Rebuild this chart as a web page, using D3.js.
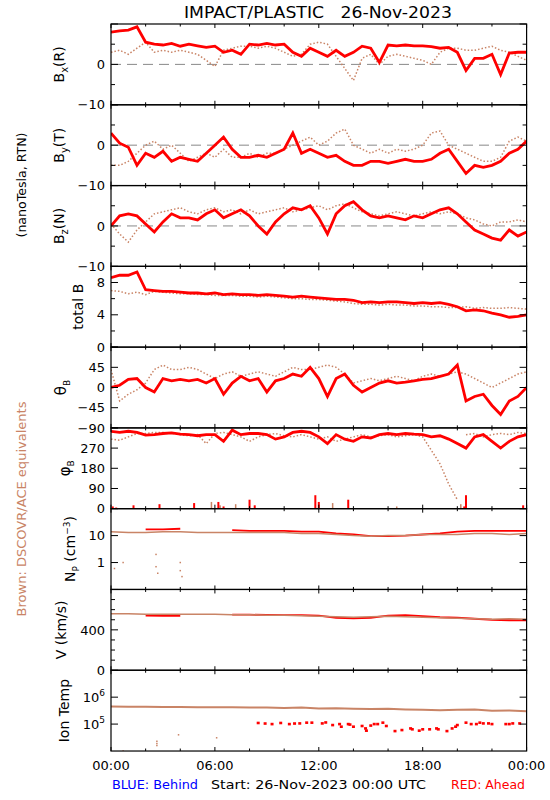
<!DOCTYPE html>
<html><head><meta charset="utf-8">
<script src="https://cdn.jsdelivr.net/npm/d3@7"></script>
<style>
body{margin:0;background:#fff}
svg{display:block}
text{font-family:"DejaVu Sans",sans-serif;fill:#000}
</style>
</head><body>
<svg id="c" width="550" height="800"></svg>
<script>
// ---------------- DATA ----------------
const hoursB=[0,0.5,1,1.5,2,2.5,3,3.5,4,4.5,5,5.5,6,6.5,7,7.5,8,8.5,9,9.5,10,10.5,11,11.5,12,12.5,13,13.5,14,14.5,15,15.5,16,16.5,17,17.5,18,18.5,19,19.5,20,20.5,21,21.5,22,22.5,23,23.5,24];
const bxRed=[8.0,8.3,8.5,9.3,5.5,5.0,4.8,5.2,4.5,5.0,4.6,4.2,4.5,3.0,3.5,2.5,5.0,4.8,5.2,4.8,5.0,3.0,2.0,4.0,3.0,2.0,3.5,2.0,3.0,4.5,4.0,0.5,4.8,4.6,4.8,4.6,4.6,4.4,4.0,4.2,3.0,-1.5,1.5,1.5,2.5,-2.5,2.8,3.0,3.0];
const bxBrown=[3,3.5,2.5,4,5.5,3,3.5,3,3.5,3,2.5,1,-0.5,3.5,4,4.5,4.5,4,4.5,4,3,2,2.5,5,5.5,5,2,-1,-4,1.5,2.5,0,2,2.5,2,1.5,1,0,3,4,4,3.5,3.5,4,4.5,3.5,3,2,1];
const byRed=[3,0.5,-0.5,-5,-2,-3,-1.5,-4,-3,-3.5,-4,-2,0,2,-1,-3,-3,-2.5,-3,-2,-1,3,-2,-1,-2,-3,-2.5,-4,-5,-5,-4,-4,-4.5,-4,-3.5,-4,-4,-3.5,-2,-1,-4,-7,-5,-5.5,-5,-4,-2,-1,1];
const byBrown=[-5,-5,-4,-2,0,1,-1,0,-2,-4,-3,-2,-3,-1,-3,-3,-2,-3,-2,-2,-1,0,1,2,0,1,3,4,0,-1,-2,-1,-2,-1,-1.5,-1,0,3,3.5,0,-1,-2,-3,-4,-4,-3,1,2,1];
const bzRed=[0,2.5,3,2.5,0.5,-1.5,1,3,2,2,1.5,3,4,2,3,4,2.5,0,-2,1,3,4.5,4,5,2,-2,3,5,6,4,2.5,2,2.5,2,1.5,2.5,2,3,4,4.5,3,1,-1,-2,-3,-3.5,-1,-2.5,-1.5];
const bzBrown=[0.5,-2,-4,-1,1,3,3.5,4,4.5,3.5,3,4,4.5,3.5,4,3,4,3,3.5,4,4.5,3.5,4,4.5,5,4,5,5.5,4.5,3.5,3,2.5,3,3.5,3,2.5,3,3.5,3,3.5,3,2,1.5,0.5,0,1,1,1.5,1];
const btRed=[8.6,8.9,8.9,9.3,7.1,7.0,6.9,6.9,6.8,6.7,6.7,6.6,6.7,6.5,6.6,6.5,6.5,6.4,6.5,6.4,6.3,6.2,6.3,6.2,6.1,6.0,5.9,5.9,5.8,5.5,5.6,5.5,5.6,5.6,5.5,5.4,5.5,5.4,5.5,5.3,5.0,4.5,4.6,4.5,4.2,4.0,3.7,3.8,4.0];
const btBrown=[7.0,6.9,6.6,6.8,6.5,6.9,6.8,6.7,6.6,6.6,6.5,6.5,6.4,6.4,6.4,6.3,6.3,6.2,6.3,6.2,6.1,6.0,6.0,5.9,5.9,5.8,5.7,5.6,5.4,5.3,5.3,5.2,5.3,5.2,5.2,5.1,5.1,5.0,5.0,4.9,4.9,5.0,4.8,4.9,4.8,4.8,4.9,4.8,4.7];
const thetaRed=[0,5,18,20,0,-10,20,15,18,15,18,10,20,-15,10,25,15,20,-10,15,20,30,25,45,20,-20,20,30,5,-10,0,10,15,10,12,15,18,20,25,30,50,-30,-20,-15,-40,-60,-30,-20,0];
const thetaBrown=[40,-30,-15,-5,10,40,50,40,40,45,40,30,20,30,35,25,30,35,30,25,35,45,40,40,45,50,45,30,10,15,20,15,20,25,20,15,25,30,25,30,35,30,20,10,0,10,20,30,35];
const phiRed=[345,340,345,340,328,330,335,338,332,330,325,330,330,300,350,330,335,335,330,310,320,340,345,340,320,290,330,310,300,320,315,330,335,330,335,332,330,320,325,310,290,270,320,330,300,270,300,320,330];
const phiBrown=[310,305,320,335,335,340,340,335,330,325,330,290,335,340,330,320,300,320,330,335,325,320,330,320,310,320,300,310,320,330,320,325,330,320,325,330,320,260,200,110,40,330,335,320,330,335,330,340,335];
// phi values wrapped near 0 deg
const phiRedLowH=[0.1,0.3,1.3,2.8,4.8,6.2,6.5,8.0,8.3,11.8,12.0,13.7,20.4,20.5,23.8];
const phiRedLowV=[10,5,15,20,25,30,10,40,15,60,30,40,10,60,15];
const phiBrownLowH=[5.8,6.3,7.2,12.8,16.5,20.2];
const phiBrownLowV=[30,15,20,25,10,20];

const hoursP=[0,1,2,3,4,5,6,7,8,9,10,11,12,13,14,15,16,17,18,19,20,21,22,23,24];
const npBrown=[14,13,13,14,14,13,13,13,13,13,13,12,12,11,10,9.5,10,10,11,11,11,12,12,11,12];
const npRed=[null,null,17,17,18,null,null,16,15,15,15,14,14,12,11,9.5,9.5,10,11,12,14,15,15,15,15];
const vBrown=[560,560,555,555,555,555,555,550,550,545,545,540,535,530,525,530,535,530,525,520,515,510,505,510,505];
const vRed=[null,null,540,538,538,null,null,550,550,548,545,545,540,520,515,520,540,545,535,525,520,510,500,495,495];
const tempBrown=[4.5e5,4.4e5,4.4e5,4.3e5,4.3e5,4.2e5,4.2e5,4.2e5,4.1e5,4.1e5,4.0e5,4.1e5,3.8e5,3.9e5,3.7e5,3.6e5,3.7e5,3.5e5,3.4e5,3.3e5,3.4e5,3.5e5,3.1e5,3.2e5,3.0e5];
const tempRedH=[8.5,8.9,9.3,9.8,10.3,10.6,10.9,11.3,11.6,12.2,12.4,12.8,13.2,13.3,13.7,13.8,14.0,14.5,14.7,14.75,15.0,15.2,15.4,15.7,15.9,16.4,16.8,17.3,17.4,17.8,18.0,18.4,18.8,18.9,19.4,19.7,19.9,20.0,20.5,20.8,21.1,21.3,21.5,21.8,22.0,22.8,23.0,23.2,23.6];
const tempRedV=[1.1e5,1.05e5,1.0e5,1.1e5,1.0e5,1.05e5,1.06e5,1.13e5,1.13e5,1.06e5,1.15e5,9.2e4,1.0e5,8.0e4,1.0e5,9.6e4,8.0e4,8.5e4,6.9e4,5.7e4,8.8e4,1.0e5,1.0e5,1.13e5,8.5e4,5.5e4,6.0e4,6.9e4,6.4e4,5.7e4,6.4e4,6.4e4,6.9e4,6.4e4,5.5e4,6.9e4,8.0e4,9.2e4,1.13e5,1.0e5,1.0e5,1.13e5,1.06e5,1.06e5,1.0e5,1.0e5,1.0e5,1.06e5,1.06e5];
const npScatterH=[0.2,0.7,2.6,2.6,2.7,4.0,4.0,4.1];
const npScatterV=[0.6,1.0,2.0,0.7,0.4,1.0,0.5,0.3];
const tempScatterH=[0.7,2.65,2.65,2.65,3.9,6.1];
const tempScatterV=[1.0e4,2.3e4,1.9e4,1.6e4,4.0e4,3.1e4];

const xTickHours=[0,2,4,6,8,10,12,14,16,18,20,22,24];
const xLabelHours=[0,6,12,18,24];
const xLabelText=["00:00","06:00","12:00","18:00","00:00"];

// ---------------- LAYOUT ----------------
const svg=d3.select("#c");
const X0=111, X1=526.6, TOP=24, PH=80.78;
const RED="#ff0000", BROWN="#c98466";
const x=d3.scaleLinear().domain([0,24]).range([X0,X1]);

const panels=[
 {id:"bx",type:"lin",domain:[-10,10],major:[-10,0,10],minor:[-5,5],lab:{"-10":"−10","0":"0"},zero:true,lx:64,
  label:[["B",14,0],["x",10,4],["(R)",14,-4]]},
 {id:"by",type:"lin",domain:[-10,10],major:[-10,0,10],minor:[-5,5],lab:{"-10":"−10","0":"0"},zero:true,lx:64,
  label:[["B",14,0],["y",10,4],["(T)",14,-4]]},
 {id:"bz",type:"lin",domain:[-10,10],major:[-10,0,10],minor:[-5,5],lab:{"-10":"−10","0":"0"},zero:true,lx:64,
  label:[["B",14,0],["z",10,4],["(N)",14,-4]]},
 {id:"bt",type:"lin",domain:[0,10],major:[0,4,8],minor:[2,6],lab:{"0":"0","4":"4","8":"8"},lx:83,
  label:[["total B",14,0]]},
 {id:"th",type:"lin",domain:[-90,90],major:[-90,-45,0,45,90],minor:[],lab:{"-90":"−90","-45":"−45","0":"0","45":"45"},lx:66,
  label:[["θ",15,0],["B",9,4]]},
 {id:"ph",type:"lin",domain:[0,360],major:[0,90,180,270,360],minor:[],lab:{"0":"0","90":"90","180":"180","270":"270"},lx:70,
  label:[["φ",15,0],["B",9,4]]},
 {id:"np",type:"log",domain:[0.1,100],major:[1,10],minor:[],lab:{"1":"1","10":"10"},lx:75,
  label:[["N",14,0],["P",9,4],[" (cm",14,-4],["−3",9,-5],[")",14,5]]},
 {id:"v",type:"lin",domain:[0,800],major:[0,400,800],minor:[100,200,300,500,600,700],lab:{"0":"0","400":"400"},lx:66,
  label:[["V (km/s)",14,0]]},
 {id:"t",type:"log",domain:[1e4,1e7],major:[1e5,1e6],minor:[],lab:{"100000":["10","5"],"1000000":["10","6"]},lx:69,
  label:[["Ion Temp",14,0]]}
];

const defs=svg.append("defs");
panels.forEach((p,i)=>{
  p.top=TOP+i*PH; p.bot=p.top+PH;
  p.y=(p.type==="log"?d3.scaleLog():d3.scaleLinear()).domain(p.domain).range([p.bot,p.top]);
  defs.append("clipPath").attr("id","clip-"+p.id).append("rect")
    .attr("x",X0).attr("y",p.top).attr("width",X1-X0).attr("height",PH);
});
const P=Object.fromEntries(panels.map(p=>[p.id,p]));

// ---------------- DRAW HELPERS ----------------
function g(p){return svg.append("g").attr("clip-path","url(#clip-"+p.id+")");}
function pairs(h,v){return h.map((t,i)=>[t,v[i]]);}
function drawLine(p,h,v,color,w,dash,splitWrap){
  const pts=pairs(h,v);
  const line=d3.line().defined(d=>d[1]!=null).x(d=>x(d[0])).y(d=>p.y(d[1]));
  let segs=[[]];
  pts.forEach((d,i)=>{
    if(splitWrap && i>0 && d[1]!=null && pts[i-1][1]!=null && Math.abs(d[1]-pts[i-1][1])>180) segs.push([]);
    segs[segs.length-1].push(d);
  });
  const gg=g(p);
  segs.forEach(s=>{
    const path=gg.append("path").attr("d",line(s)).attr("fill","none")
      .attr("stroke",color).attr("stroke-width",w).attr("stroke-linejoin","miter");
    if(dash) path.attr("stroke-dasharray",dash);
  });
}
function drawDots(p,h,v,color,sw,sh){
  g(p).selectAll(null).data(pairs(h,v)).join("rect")
    .attr("x",d=>x(d[0])-sw/2).attr("y",d=>p.y(d[1])-sh/2)
    .attr("width",sw).attr("height",sh).attr("fill",color);
}
function drawSpikes(p,h,v,color,w){
  g(p).selectAll(null).data(pairs(h,v)).join("rect")
    .attr("x",d=>x(d[0])-w/2).attr("y",d=>p.y(d[1]))
    .attr("width",w).attr("height",d=>p.y(0)-p.y(d[1])).attr("fill",color);
}

// ---------------- ZERO LINES ----------------
panels.filter(p=>p.zero).forEach(p=>{
  svg.append("line").attr("x1",X0).attr("x2",X1).attr("y1",p.y(0)).attr("y2",p.y(0))
    .attr("stroke","#888").attr("stroke-width",1).attr("stroke-dasharray","10,6");
});

// ---------------- SERIES ----------------
const bSeries=[["bx",bxBrown,bxRed],["by",byBrown,byRed],["bz",bzBrown,bzRed],["bt",btBrown,btRed],["th",thetaBrown,thetaRed]];
bSeries.forEach(([id,b,r])=>{
  drawLine(P[id],hoursB,b,BROWN,1.5,"1.5,2");
  drawLine(P[id],hoursB,r,RED,2.8);
});
drawLine(P.ph,hoursB,phiBrown,BROWN,1.5,"1.5,2",true);
drawLine(P.ph,hoursB,phiRed,RED,2.8,null,true);
drawSpikes(P.ph,phiBrownLowH,phiBrownLowV,BROWN,1.5);
drawSpikes(P.ph,phiRedLowH,phiRedLowV,RED,2);

drawLine(P.np,hoursP,npRed,RED,1.8);
drawLine(P.np,hoursP,npBrown,BROWN,1.5);
drawDots(P.np,npScatterH,npScatterV,BROWN,1.5,1.5);
drawLine(P.v,hoursP,vRed,RED,1.8);
drawLine(P.v,hoursP,vBrown,BROWN,1.5);
drawLine(P.t,hoursP,tempBrown,BROWN,2);
drawDots(P.t,tempScatterH,tempScatterV,BROWN,1.5,1.5);
drawDots(P.t,tempRedH,tempRedV,RED,3,2.6);

// ---------------- AXES / FRAMES ----------------
panels.forEach(p=>{
  const ax=svg.append("g");
  p.major.forEach(v=>{
    const yy=p.y(v);
    ax.append("line").attr("x1",X0).attr("x2",X0+7).attr("y1",yy).attr("y2",yy).attr("stroke","#000");
    ax.append("line").attr("x1",X1).attr("x2",X1-7).attr("y1",yy).attr("y2",yy).attr("stroke","#000");
  });
  p.minor.forEach(v=>{
    const yy=p.y(v);
    ax.append("line").attr("x1",X0).attr("x2",X0+4).attr("y1",yy).attr("y2",yy).attr("stroke","#000");
    ax.append("line").attr("x1",X1).attr("x2",X1-4).attr("y1",yy).attr("y2",yy).attr("stroke","#000");
  });
  xTickHours.forEach(h=>{
    const len=(h%6===0)?4:2.5, xx=x(h);
    ax.append("line").attr("x1",xx).attr("x2",xx).attr("y1",p.top).attr("y2",p.top+len).attr("stroke","#000");
    ax.append("line").attr("x1",xx).attr("x2",xx).attr("y1",p.bot).attr("y2",p.bot-len).attr("stroke","#000");
  });
  ax.append("rect").attr("x",X0).attr("y",p.top).attr("width",X1-X0).attr("height",PH)
    .attr("fill","none").attr("stroke","#000").attr("stroke-width",1.2);
  Object.entries(p.lab).forEach(([k,t])=>{
    const yy=p.y(+k);
    const tx=ax.append("text").attr("x",105).attr("y",yy).attr("dy","0.36em")
      .attr("text-anchor","end").attr("font-size",13);
    if(Array.isArray(t)){
      tx.append("tspan").text(t[0]);
      tx.append("tspan").attr("font-size",9).attr("dy",-6).text(t[1]);
    } else tx.text(t);
  });
  const yc=(p.top+p.bot)/2;
  const tt=ax.append("text").attr("transform",`translate(${p.lx},${yc}) rotate(-90)`)
    .attr("text-anchor","middle").attr("dy","0.36em").attr("font-size",14);
  p.label.forEach(([s,fs,dy])=>tt.append("tspan").attr("font-size",fs).attr("dy",dy).text(s));
});

xLabelHours.forEach((h,i)=>{
  svg.append("text").attr("x",x(h)).attr("y",770).attr("text-anchor","middle")
    .attr("font-size",13).text(xLabelText[i]);
});

svg.append("text").attr("x",318).attr("y",18).attr("text-anchor","middle").attr("font-size",15)
  .attr("textLength",268).attr("lengthAdjust","spacingAndGlyphs").style("white-space","pre")
  .text("IMPACT/PLASTIC   26-Nov-2023");
svg.append("text").attr("transform",`translate(21,185) rotate(-90)`).attr("text-anchor","middle")
  .attr("dy","0.36em").attr("font-size",13).attr("textLength",105).attr("lengthAdjust","spacingAndGlyphs")
  .text("(nanoTesla, RTN)");
svg.append("text").attr("transform",`translate(21,509) rotate(-90)`).attr("text-anchor","middle")
  .attr("dy","0.36em").attr("font-size",13).style("fill",BROWN).attr("textLength",215).attr("lengthAdjust","spacingAndGlyphs")
  .text("Brown: DSCOVR/ACE equivalents");
svg.append("text").attr("x",112).attr("y",789).attr("font-size",13).style("fill","#0000ff")
  .attr("textLength",86).attr("lengthAdjust","spacingAndGlyphs").text("BLUE: Behind");
svg.append("text").attr("x",211).attr("y",789).attr("font-size",13)
  .attr("textLength",215).attr("lengthAdjust","spacingAndGlyphs").text("Start: 26-Nov-2023 00:00 UTC");
svg.append("text").attr("x",451).attr("y",789).attr("font-size",13).style("fill","#ff0000")
  .attr("textLength",74).attr("lengthAdjust","spacingAndGlyphs").text("RED: Ahead");
</script>
</body></html>
